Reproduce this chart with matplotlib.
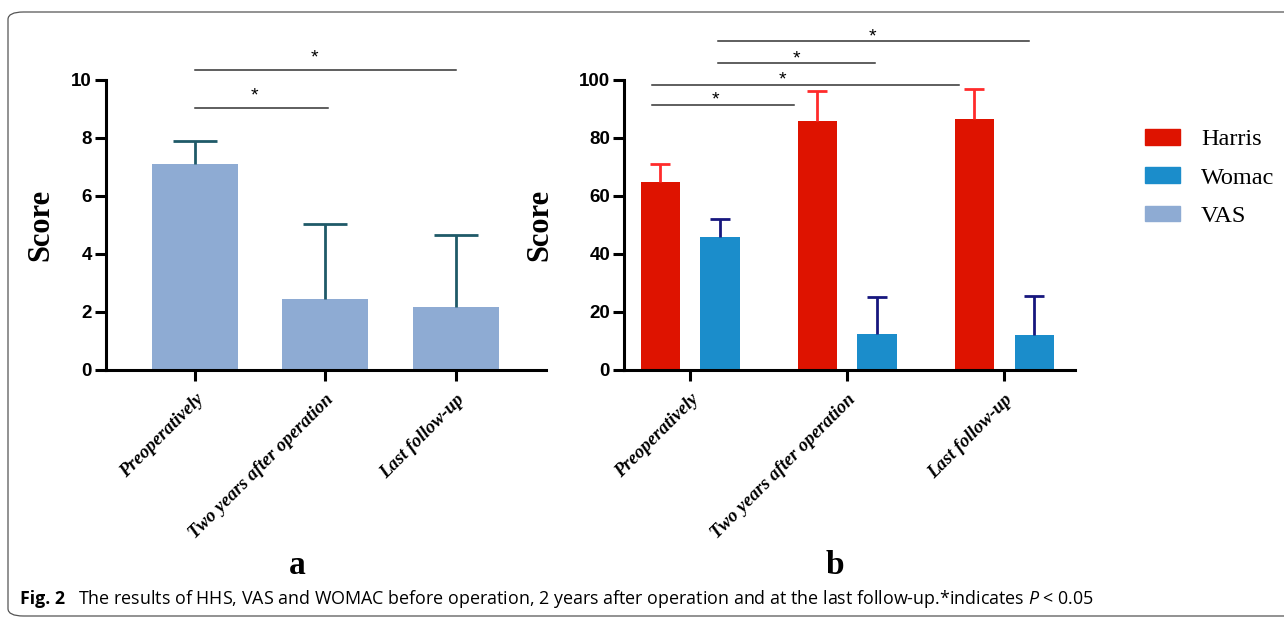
"""Fig. 2 recreation: VAS (a) and Harris/Womac (b) scores over follow-up."""

import matplotlib
matplotlib.use("Agg")
import matplotlib.pyplot as plt
import numpy as np
from matplotlib.patches import FancyBboxPatch, Patch

# ── Data ─────────────────────────────────────────────────────────────────────
timepoints = ["Preoperatively", "Two years after operation", "Last follow-up"]

vas_mean = [7.1, 2.45, 2.17]
vas_sd = [0.8, 2.58, 2.5]

harris_mean = [64.8, 85.7, 86.6]
harris_sd = [6.3, 10.5, 10.3]
womac_mean = [45.8, 12.3, 12.1]
womac_sd = [6.1, 12.8, 13.4]

# significance brackets: line x0, x1, line y, star x, star y
sig_a_x0 = [0.0, 0.0]
sig_a_x1 = [1.02, 2.0]
sig_a_y = [9.05, 10.35]
sig_a_star_x = [0.46, 0.92]
sig_a_star_y = [9.6, 10.9]

sig_b_x0 = [-0.24, -0.24, 0.175, 0.175]
sig_b_x1 = [0.66, 1.71, 1.18, 2.16]
sig_b_y = [91.4, 98.3, 106.0, 113.4]
sig_b_star_x = [0.16, 0.59, 0.68, 1.16]
sig_b_star_y = [94.5, 101.4, 108.6, 116.2]

C_VAS = "#8eabd3"
C_HARRIS = "#de1300"
C_WOMAC = "#1b8dcb"
E_VAS = "#1f5a68"
E_HARRIS = "#ff2b2b"
E_WOMAC = "#17177e"

SERIF = "Liberation Serif"
SANS = "Liberation Sans"

plt.rcParams["mathtext.fontset"] = "custom"
plt.rcParams["mathtext.it"] = "Open Sans:italic"
plt.rcParams["mathtext.rm"] = "Open Sans"

fig = plt.figure(figsize=(12.84, 6.19), dpi=100)
W, H = 1284, 619


def px_axes(left, right, top, bottom):
    return fig.add_axes([left / W, 1 - bottom / H, (right - left) / W, (bottom - top) / H])


def style_axis(ax, label_x):
    for side in ("top", "right"):
        ax.spines[side].set_visible(False)
    for side in ("left", "bottom"):
        ax.spines[side].set_linewidth(2.2)
    ax.tick_params(axis="both", width=2.2, length=8, direction="out")
    ax.tick_params(axis="y", labelsize=13.5, pad=2)
    ax.tick_params(axis="x", pad=7)
    for lab in ax.get_yticklabels():
        lab.set_fontweight("bold")
        lab.set_fontfamily(SANS)
    ax.set_xticks(range(len(timepoints)))
    ax.set_xticklabels(timepoints, rotation=45, ha="right", rotation_mode="anchor",
                       fontfamily=SERIF, fontweight="bold", fontstyle="italic", fontsize=13.4)
    ax.set_ylabel("Score", fontfamily=SERIF, fontweight="bold", fontsize=22)
    ax.yaxis.set_label_coords(label_x, 0.5)


def brackets(ax, x0s, x1s, ys, sxs, sys_):
    for x0, x1, y in zip(x0s, x1s, ys):
        ax.plot([x0, x1], [y, y], color="#333333", lw=1.1, clip_on=False)
    for sx, sy in zip(sxs, sys_):
        ax.annotate("*", (sx, sy), xytext=(0, -3), textcoords="offset points",
                    ha="center", va="center", fontsize=14, fontfamily=SANS,
                    annotation_clip=False)


def upper_errorbar(ax, xs, means, sds, color, capsize):
    _, caps, _ = ax.errorbar(xs, means, yerr=[np.zeros(len(sds)), sds], fmt="none",
                             ecolor=color, elinewidth=2, capsize=capsize, capthick=2)
    caps[0].set_visible(False)  # lower cap sits on the bar top; hide it


# ── Panel a ──────────────────────────────────────────────────────────────────
ax_a = px_axes(106, 546, 80, 370)
x = np.arange(len(timepoints))
ax_a.bar(x, vas_mean, width=0.66, color=C_VAS)
upper_errorbar(ax_a, x, vas_mean, vas_sd, E_VAS, 15.5)
ax_a.set_xlim(-0.68, 2.69)
ax_a.set_ylim(0, 10)
ax_a.set_yticks([0, 2, 4, 6, 8, 10])
style_axis(ax_a, -0.116)
brackets(ax_a, sig_a_x0, sig_a_x1, sig_a_y, sig_a_star_x, sig_a_star_y)

# ── Panel b ──────────────────────────────────────────────────────────────────
ax_b = px_axes(624, 1075, 80, 370)
off, bw = 0.19, 0.25
ax_b.bar(x - off, harris_mean, width=bw, color=C_HARRIS)
ax_b.bar(x + off, womac_mean, width=bw, color=C_WOMAC)
upper_errorbar(ax_b, x - off, harris_mean, harris_sd, E_HARRIS, 7.3)
upper_errorbar(ax_b, x + off, womac_mean, womac_sd, E_WOMAC, 7.3)
ax_b.set_xlim(-0.42, 2.45)
ax_b.set_ylim(0, 100)
ax_b.set_yticks([0, 20, 40, 60, 80, 100])
style_axis(ax_b, -0.155)
brackets(ax_b, sig_b_x0, sig_b_x1, sig_b_y, sig_b_star_x, sig_b_star_y)

# ── Legend ───────────────────────────────────────────────────────────────────
handles = [Patch(color=C_HARRIS, label="Harris"),
           Patch(color=C_WOMAC, label="Womac"),
           Patch(color=C_VAS, label="VAS")]
fig.legend(handles=handles, loc="center left", bbox_to_anchor=(1145 / W, 1 - 178 / H),
           frameon=False, prop={"family": SERIF, "size": 17.5},
           handlelength=1.44, handleheight=0.62, labelspacing=0.7, handletextpad=0.86,
           borderpad=0, borderaxespad=0)

# ── Panel letters, caption, frame ────────────────────────────────────────────
fig.text(297 / W, 1 - 565 / H, "a", ha="center", va="center",
         fontfamily=SERIF, fontweight="bold", fontsize=24)
fig.text(835 / W, 1 - 565 / H, "b", ha="center", va="center",
         fontfamily=SERIF, fontweight="bold", fontsize=24)

fig.text(20 / W, 1 - 599 / H, "Fig. 2", ha="left", va="center",
         fontfamily="Open Sans", fontweight="bold", fontsize=12.8)
fig.text(78 / W, 1 - 599 / H,
         "The results of HHS, VAS and WOMAC before operation, 2 years after operation "
         "and at the last follow-up.*indicates $\\mathit{P}$ < 0.05",
         ha="left", va="center", fontfamily="Open Sans", fontsize=12.9)

frame = FancyBboxPatch((8 / W, 3 / H), 1.05, 1 - 15 / H,
                       boxstyle="round,pad=0,rounding_size=0.012",
                       transform=fig.transFigure, fill=False,
                       edgecolor="#555555", lw=0.9, clip_on=False)
fig.patches.append(frame)

fig.savefig("out.png", dpi=100)
